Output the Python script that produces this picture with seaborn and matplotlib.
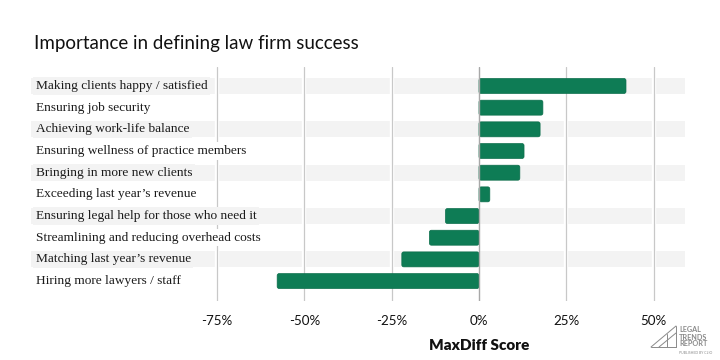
import matplotlib
matplotlib.use("Agg")
import matplotlib.pyplot as plt
import seaborn as sns
import pandas as pd
import matplotlib.transforms as mtransforms
from matplotlib.patches import FancyBboxPatch

categories = [
    "Making clients happy / satisfied",
    "Ensuring job security",
    "Achieving work-life balance",
    "Ensuring wellness of practice members",
    "Bringing in more new clients",
    "Exceeding last year\u2019s revenue",
    "Ensuring legal help for those who need it",
    "Streamlining and reducing overhead costs",
    "Matching last year\u2019s revenue",
    "Hiring more lawyers / staff",
]
scores = [42.1, 18.3, 17.5, 12.9, 11.7, 3.1, -9.6, -14.2, -22.1, -57.8]
tick_values = [-75, -50, -25, 0, 25, 50]
tick_labels = ["-75%", "-50%", "-25%", "0%", "25%", "50%"]

df = pd.DataFrame({"category": categories, "score": scores})

sns.set_theme(style="white")
plt.rcParams["font.family"] = ["Lato", "DejaVu Sans"]

BAR = "#0e7c55"
BAND = "#f3f3f3"
GRID = "#c8c8c8"

fig = plt.figure(figsize=(7.2, 3.6), dpi=100)
ax = fig.add_axes([31 / 720, 1 - 301 / 360, (685 - 31) / 720, (301 - 67) / 360])

sns.barplot(data=df, x="score", y="category", color=BAR, orient="h",
            width=0.69, ax=ax, zorder=3, saturation=1)

ax.set_xlim(-128.3, 59.0)
ax.set_ylim(9.92, -0.876)

# rounded bar ends
x_per_px = (59.0 + 128.3) / 654
y_per_px = 10.796 / 234
for p in list(ax.patches):
    x0, y0, w, h = p.get_x(), p.get_y(), p.get_width(), p.get_height()
    if w < 0:
        x0, w = x0 + w, -w
    rb = FancyBboxPatch((x0, y0), w, h,
                        boxstyle="round,pad=0,rounding_size=%f" % (2.0 * x_per_px),
                        mutation_aspect=y_per_px / x_per_px,
                        fc=BAR, ec="#0b6e4b", lw=0.5, zorder=3)
    p.set_visible(False)
    ax.add_patch(rb)

# alternating bands
for i in range(len(categories)):
    if i % 2 == 0:
        ax.axhspan(i - 0.37, i + 0.37, color=BAND, zorder=0, lw=0)

# gridlines with white halos
for v in tick_values:
    if v == 0:
        continue
    ax.axvline(v, color="white", lw=3.2, zorder=1)
    ax.axvline(v, color=GRID, lw=0.9, zorder=1.5)

# zero line
ax.axvline(0, color="#a8a8a8", lw=1.0, zorder=4)

# labels with row-coloured backgrounds hiding gridlines
for i, c in enumerate(categories):
    fc = BAND if i % 2 == 0 else "white"
    ax.text(-127.0, i, c, ha="left", va="center", fontsize=9.6,
            family=["Liberation Serif"], color="#1a1a1a", zorder=2,
            bbox=dict(boxstyle="square,pad=0.2", fc=fc, ec="none"))

ax.set_xticks(tick_values)
ax.set_xticklabels(tick_labels)
ax.set_yticks([])
ax.set_ylabel("")
ax.set_xlabel("")
ax.tick_params(axis="x", length=0, pad=10, labelsize=9.6, labelcolor="#111111")
for s in ax.spines.values():
    s.set_visible(False)

trans = mtransforms.blended_transform_factory(ax.transData, fig.transFigure)
ax.text(0, 1 - 345 / 360, "MaxDiff Score", transform=trans, ha="center",
        va="center", fontsize=11, fontweight="heavy", color="#111111")

fig.text(34 / 720, 1 - 43 / 360, "Importance in defining law firm success",
         ha="left", va="center", fontsize=13.5, color="#111111")

# logo
lc = "#8a8a8a"
def seg(x0, y0, x1, y1):
    fig.add_artist(plt.Line2D([x0 / 720, x1 / 720], [1 - y0 / 360, 1 - y1 / 360],
                              transform=fig.transFigure, color=lc, lw=0.7))
seg(651, 347, 676, 326)
seg(659, 347, 676, 333)
seg(651, 347, 676, 347)
seg(676, 347, 676, 326)
seg(667, 347, 667, 334)
fig.text(679 / 720, 1 - 337 / 360, "LEGAL\nTRENDS\nREPORT", ha="left", va="center",
         fontsize=5.2, color=lc, fontweight="bold", linespacing=1.0)
fig.text(679 / 720, 1 - 353 / 360, "PUBLISHED BY CLIO", ha="left", va="center",
         fontsize=2.5, color=lc)

fig.savefig("out.png", dpi=100, facecolor="white")
